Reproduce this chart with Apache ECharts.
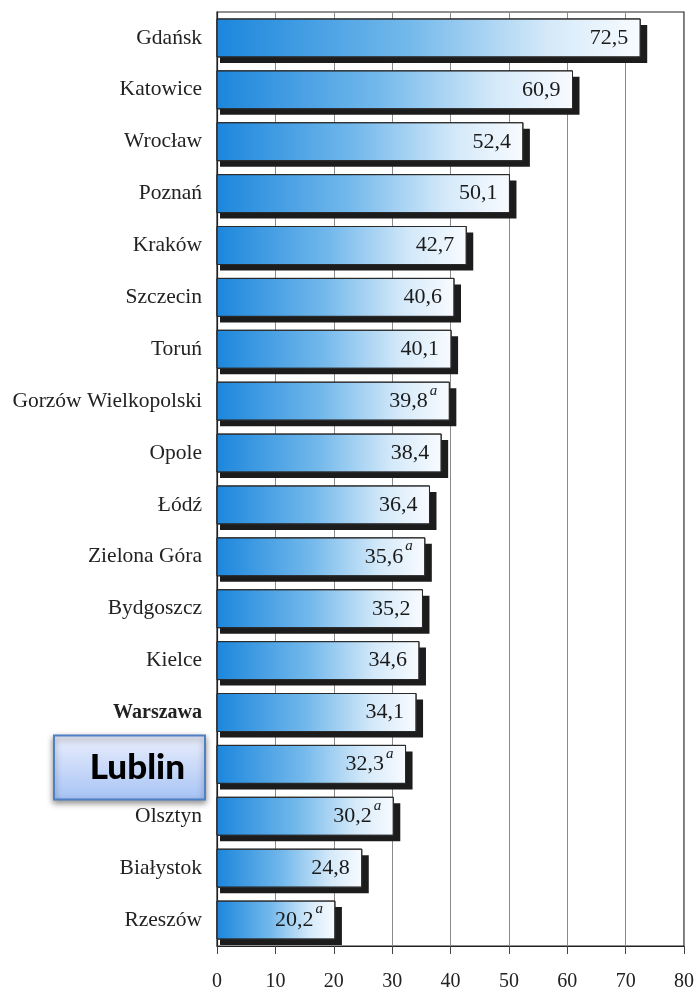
<!DOCTYPE html>
<html>
<head>
<meta charset="utf-8">
<script src="https://cdn.jsdelivr.net/npm/echarts@6/dist/echarts.min.js"></script>
<style>html,body{margin:0;padding:0;background:#fff;}#c{width:697px;height:992px;}</style>
</head>
<body>
<div id="c"></div>
<script>
const categories = ['Gdańsk','Katowice','Wrocław','Poznań','Kraków','Szczecin','Toruń','Gorzów Wielkopolski','Opole','Łódź','Zielona Góra','Bydgoszcz','Kielce','Warszawa','Lublin','Olsztyn','Białystok','Rzeszów'];
const values = [72.5,60.9,52.4,50.1,42.7,40.6,40.1,39.8,38.4,36.4,35.6,35.2,34.6,34.1,32.3,30.2,24.8,20.2];
const footnoteA = [false,false,false,false,false,false,false,true,false,false,true,false,false,false,true,true,false,true];
const xTicks = [0,10,20,30,40,50,60,70,80];
const highlighted = 'Lublin';
const boldCategory = 'Warszawa';

const serif = '"Liberation Serif","Times New Roman",serif';
const BAR_H = 38;
const chart = echarts.init(document.getElementById('c'));
function barGradient(){
  return new echarts.graphic.LinearGradient(0,0,1,0,[
    {offset:0,color:'#1c86dc'},
    {offset:0.45,color:'#72b8eb'},
    {offset:0.78,color:'#d4e9f9'},
    {offset:1,color:'#f8fbff'}
  ]);
}
chart.setOption({
  animation:false,
  grid:{left:217,right:10,top:12,bottom:46,show:true,borderColor:'#222',borderWidth:1.2,containLabel:false},
  xAxis:{type:'value',min:xTicks[0],max:xTicks[xTicks.length-1],interval:10,
    axisLine:{show:true,lineStyle:{color:'#222',width:1.2}},
    axisTick:{show:true,length:8,lineStyle:{color:'#444'}},
    axisLabel:{fontFamily:serif,fontSize:20,color:'#222',margin:26},
    splitLine:{show:true,lineStyle:{color:'#8a8a8a',width:1}}},
  yAxis:{type:'category',data:categories,inverse:true,
    axisLine:{show:true,lineStyle:{color:'#222',width:1.2}},
    axisTick:{show:false},
    axisLabel:{fontFamily:serif,fontSize:21.5,color:'#222',margin:15,
      formatter:function(v){ if(v===highlighted) return ''; if(v===boldCategory) return '{b|'+v+'}'; return v; },
      rich:{b:{fontFamily:serif,fontSize:20,fontWeight:'bold',color:'#222'}}}},
  series:[
  {type:'custom',
    data:values.map((v,i)=>[v,i]),
    encode:{x:0,y:1},
    renderItem:function(params,api){
      const p0 = api.coord([0, api.value(1)]);
      const p1 = api.coord([api.value(0), api.value(1)]);
      const x = p0[0], w = p1[0]-p0[0], y = p0[1]-BAR_H/2;
      return {type:'group',children:[
        {type:'rect',shape:{x:x+3,y:y+6,width:w+4,height:BAR_H},style:{fill:'#1c1c1c'}},
        {type:'rect',shape:{x:x,y:y,width:w,height:BAR_H},style:{fill:barGradient(),stroke:'#2a2a2a',lineWidth:1}}
      ]};
    },
    z:2},
  {type:'bar',barWidth:BAR_H,z:3,
    data:values.map((v,i)=>({value:v,footA:footnoteA[i]})),
    itemStyle:{color:'rgba(0,0,0,0)'},
    label:{show:true,position:'insideRight',distance:12,
      formatter:function(p){ const s=p.value.toFixed(1).replace('.',','); return p.data.footA ? '{v|'+s+'}{s|a}' : '{v|'+s+'}'; },
      rich:{v:{fontFamily:serif,fontSize:22,color:'#1a1a1a',lineHeight:26},
            s:{fontFamily:serif,fontSize:15,fontStyle:'italic',color:'#1a1a1a',verticalAlign:'top',lineHeight:36,padding:[0,0,0,2]}}}
  }]
});
const yc = chart.convertToPixel({yAxisIndex:0}, highlighted);
chart.setOption({graphic:[{type:'group',left:53,top:yc-30,children:[
  {type:'rect',shape:{x:0,y:0,width:151,height:64},
   style:{fill:new echarts.graphic.LinearGradient(0,0,0,1,[{offset:0,color:'#eceffc'},{offset:1,color:'#a6c3f5'}]),
     stroke:'#4f7fc4',lineWidth:2,shadowColor:'rgba(0,0,0,0.45)',shadowBlur:6,shadowOffsetY:3}},
  {type:'text',style:{x:131,y:32,text:highlighted,align:'right',verticalAlign:'middle',
     font:'900 35px Lato, "Open Sans", sans-serif',fill:'#000'}}
]}]});
</script>
</body>
</html>
